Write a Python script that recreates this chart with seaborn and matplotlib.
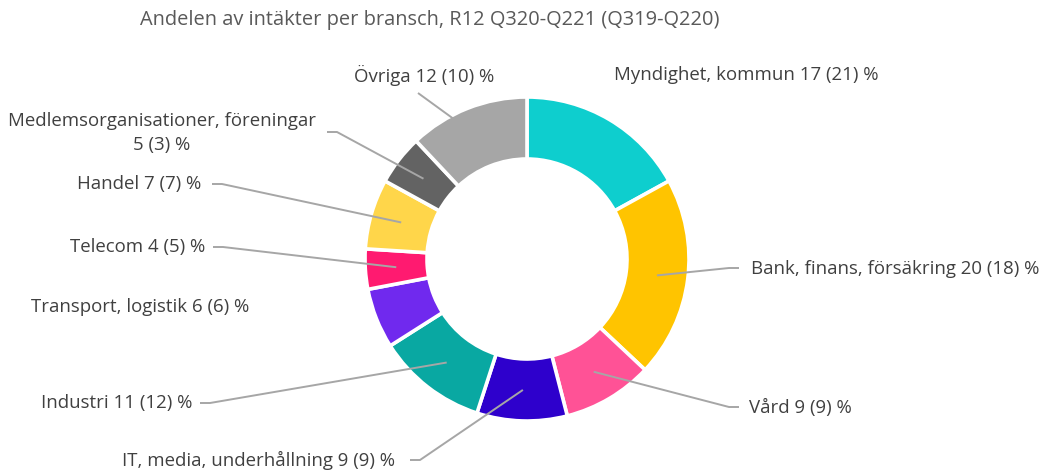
import numpy as np
import matplotlib
matplotlib.use("Agg")
import matplotlib.pyplot as plt
import seaborn as sns

# === Data ===
branscher = [
    "Myndighet, kommun", "Bank, finans, försäkring", "Vård",
    "IT, media, underhållning", "Industri", "Transport, logistik",
    "Telecom", "Handel", "Medlemsorganisationer, föreningar", "Övriga",
]
andel_nu = [17, 20, 9, 9, 11, 6, 4, 7, 5, 12]
andel_fg = [21, 18, 9, 9, 12, 6, 5, 7, 3, 10]

title = "Andelen av intäkter per bransch, R12 Q320-Q221 (Q319-Q220)"

# === Style ===
colors = ["#0ECECE", "#FFC400", "#FF5296", "#2E00CC", "#09A8A2",
          "#7029EE", "#FF1A70", "#FFD64A", "#636363", "#A6A6A6"]

sns.set_theme(style="white")
plt.rcParams["font.family"] = ["Open Sans", "DejaVu Sans"]

W, H = 1039, 470
fig = plt.figure(figsize=(W / 100, H / 100), dpi=100)
ax = fig.add_axes([0, 0, 1, 1])

cx, cy = 527, H - 259
r_out, r_in = 162, 100

ax.pie(andel_nu, colors=colors, startangle=90, counterclock=False,
       radius=r_out, center=(cx, cy),
       wedgeprops=dict(width=r_out - r_in, edgecolor="white", linewidth=2.6))

ax.set_xlim(0, W)
ax.set_ylim(0, H)
ax.set_aspect("equal")
ax.axis("off")

# label layout in pixel coords (x, y, ha, leader start or None)
layout = [
    (614, 75, "left", None),
    (751, 269, "left", (739, 268)),
    (749, 408, "left", (739, 407)),
    (395, 460, "right", (410, 460)),
    (192, 403, "right", (200, 403)),
    (249, 307, "right", None),
    (205, 247, "right", (213, 247)),
    (201, 184, "right", (212, 184)),
    (162, 133, "center", (327, 132)),
    (424, 75, "center", (418, 93)),
]

txt_col = "#404040"
line_col = "#A6A6A6"
frac = np.cumsum([0] + andel_nu) / sum(andel_nu)
r_mid = (r_out + r_in) / 2

for i, name in enumerate(branscher):
    lab = f"{name} {andel_nu[i]} ({andel_fg[i]}) %"
    if name.startswith("Medlems"):
        lab = f"{name}\n{andel_nu[i]} ({andel_fg[i]}) %"
    x, y, ha, start = layout[i]
    ax.text(x, H - y, lab, ha=ha, va="center", fontsize=13.4, color=txt_col,
            linespacing=1.4)
    if start is None:
        continue
    # leader line ends in the middle of the wedge
    theta = np.deg2rad(360 * (frac[i] + frac[i + 1]) / 2)
    px = cx + r_mid * np.sin(theta)
    py = cy + r_mid * np.cos(theta)
    sx, sy = start[0], H - start[1]
    if name.startswith("Övriga"):
        xs, ys = [sx, px], [sy, py]
    elif ha == "left":
        xs, ys = [sx, sx - 10, px], [sy, sy, py]
    else:
        xs, ys = [sx, sx + 10, px], [sy, sy, py]
    ax.plot(xs, ys, color=line_col, lw=1.4, solid_capstyle="butt")

fig.text(140 / W, 1 - 20 / H, title, ha="left", va="center",
         fontsize=14.4, color="#595959")

fig.savefig("out.png", dpi=100)
